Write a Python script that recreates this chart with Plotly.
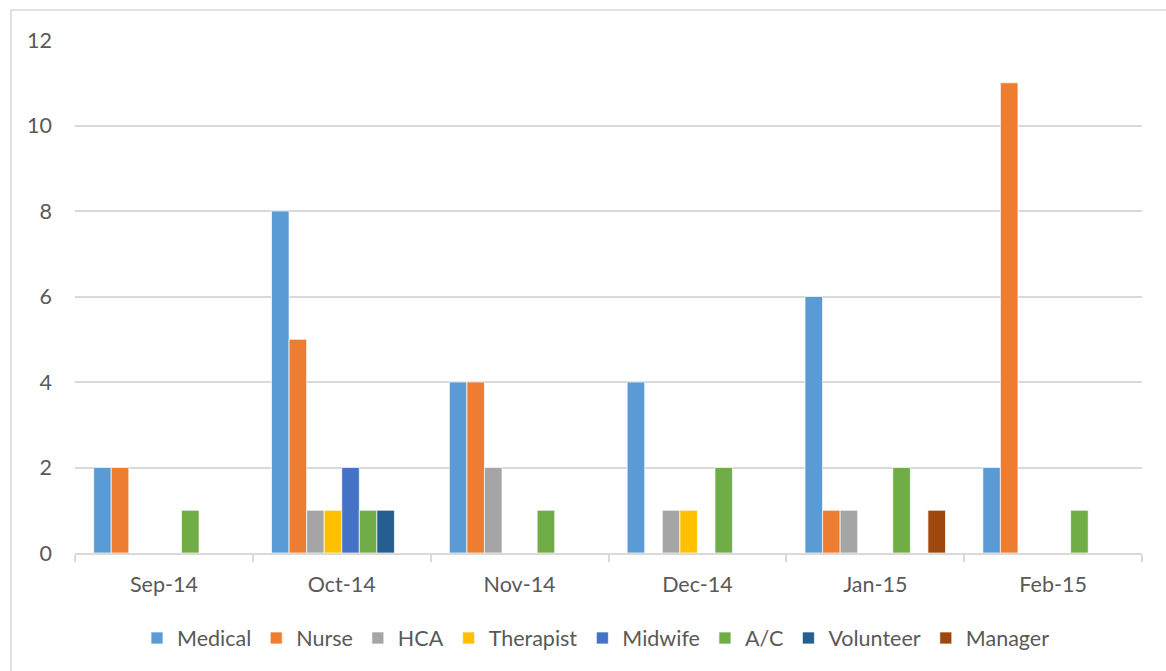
import plotly.graph_objects as go

months = ["Sep-14", "Oct-14", "Nov-14", "Dec-14", "Jan-15", "Feb-15"]

medical = [2, 8, 4, 4, 6, 2]
nurse = [2, 5, 4, 0, 1, 11]
hca = [0, 1, 2, 1, 1, 0]
therapist = [0, 1, 0, 1, 0, 0]
midwife = [0, 2, 0, 0, 0, 0]
ac = [1, 1, 1, 2, 2, 1]
volunteer = [0, 1, 0, 0, 0, 0]
manager = [0, 0, 0, 0, 1, 0]

series = [
    ("Medical", medical, "#5B9BD5"),
    ("Nurse", nurse, "#ED7D31"),
    ("HCA", hca, "#A5A5A5"),
    ("Therapist", therapist, "#FFC000"),
    ("Midwife", midwife, "#4472C4"),
    ("A/C", ac, "#70AD47"),
    ("Volunteer", volunteer, "#255E91"),
    ("Manager", manager, "#9E480E"),
]

FONT = "Lato, 'Open Sans', sans-serif"
GRAY = "#595959"
GRID = "#D9D9D9"
FS = 21.5

fig = go.Figure()
for name, vals, col in series:
    fig.add_trace(go.Bar(
        x=months, y=vals, name=name,
        marker=dict(color=col, line=dict(color="white", width=0.7)),
    ))

W, H = 1166, 671
L, R, T, B = 75, 24, 40, 118
pw, ph = W - L - R, H - T - B

def px_x(p):
    return (p - L) / pw

def px_y(p):
    return (H - B - p) / ph

fig.update_layout(
    width=W, height=H,
    margin=dict(l=L, r=R, t=T, b=B),
    paper_bgcolor="white", plot_bgcolor="white",
    barmode="group", bargap=0.21, bargroupgap=0,
    font=dict(family=FONT, color=GRAY, size=FS),
    showlegend=True,
    legend=dict(
        orientation="h", x=px_x(596), xanchor="center",
        y=px_y(638), yanchor="middle",
        font=dict(size=FS, color=GRAY),
        itemwidth=30,
        traceorder="normal",
    ),
    xaxis=dict(
        type="category",
        showgrid=False,
        showline=True, linecolor=GRID, linewidth=1.5,
        ticks="outside", tickson="boundaries", ticklen=7, tickcolor=GRID, tickwidth=1.5,
        ticklabelstandoff=11,
        tickfont=dict(size=FS, color=GRAY, family=FONT),
    ),
    yaxis=dict(
        range=[0, 12], dtick=2,
        showgrid=True, gridcolor=GRID, gridwidth=1.5,
        zeroline=False, showline=False,
        ticklabelstandoff=22,
        tickfont=dict(size=FS, color=GRAY, family=FONT),
    ),
    shapes=[dict(
        type="rect", xref="paper", yref="paper",
        x0=px_x(11), x1=px_x(1175), y0=px_y(680), y1=px_y(10),
        line=dict(color=GRID, width=1.5), fillcolor="rgba(0,0,0,0)", layer="below",
    )],
)

fig.write_html("out.html")
